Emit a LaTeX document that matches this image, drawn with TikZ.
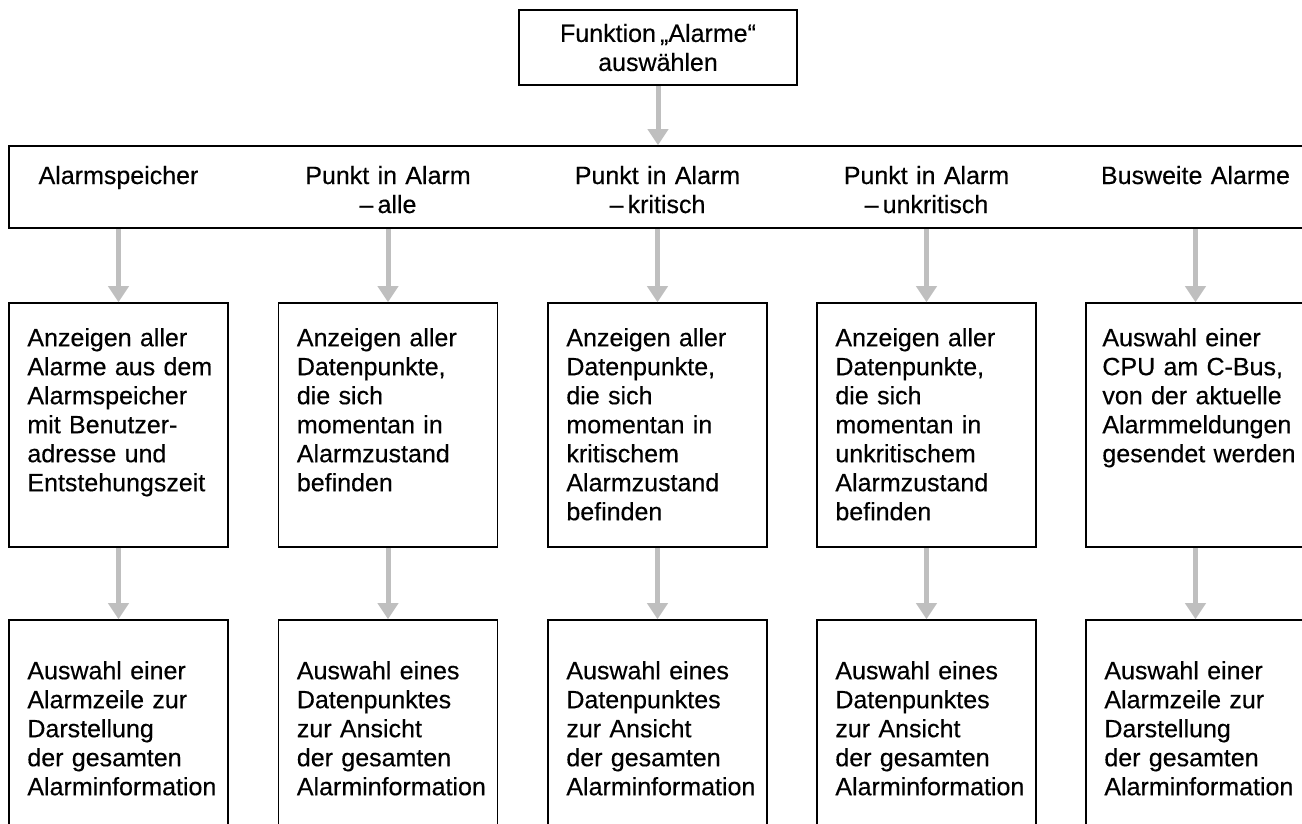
\documentclass[tikz,border=0pt]{standalone}
\usepackage{fontspec}
\setmainfont{Liberation Sans}[WordSpace=0.6, UprightFeatures={FakeBold=0.35}]
\usetikzlibrary{arrows.meta,calc}
\definecolor{arrowgray}{RGB}{191,191,191}
\tikzset{
  box/.style={draw=black, line width=1.6pt, inner sep=0pt, fill=white},
  colbox/.style={box, minimum width=219pt},
  txt/.style={inner sep=0pt, font=\fontsize{25}{29}\selectfont},
  lbl/.style={txt, align=left, text width=200pt, anchor=base west},
  barlbl/.style={txt, align=center, text width=219pt, anchor=base},
  arr/.style={draw=arrowgray, line width=5pt, -{Triangle[width=20pt,length=16pt]}}
}
\begin{document}
\begin{tikzpicture}[x=1pt,y=-1pt]
  \useasboundingbox (0,0) rectangle (1302,823);
  \clip (0,0) rectangle (1302,823);

  % start box and the wide menu bar
  \node[box, minimum width=278pt, minimum height=75pt, align=center, txt]
    (top) at (658,47.5) {Funktion „Alarme“\\auswählen};
  \node[box, minimum width=1320pt, minimum height=82pt] (bar) at (669,187) {};

  \node[barlbl] (l1) at (118.5,184) {Alarmspeicher};
  \node[barlbl] (l2) at (388,184) {Punkt in Alarm\\–\,alle};
  \node[barlbl] (l3) at (657.5,184) {Punkt in Alarm\\–\,kritisch};
  \node[barlbl] (l4) at (926.5,184) {Punkt in Alarm\\–\,unkritisch};
  \node[barlbl] (l5) at (1195.5,184) {Busweite Alarme};

  % middle and bottom rows of boxes
  \foreach \i/\x in {1/118.5,2/388,3/657.5,4/926.5,5/1195.5}{
    \node[colbox, minimum height=244pt] (m\i) at (\x,425) {};
    \node[colbox, minimum height=240pt] (b\i) at (\x,740) {};
  }

  \node[lbl] (m1t) at ($(m1.north west)+(19,44)$)
    {Anzeigen aller\\Alarme aus dem\\Alarmspeicher\\mit Benutzer-\\adresse und\\Entstehungszeit};
  \node[lbl] (m2t) at ($(m2.north west)+(19,44)$)
    {Anzeigen aller\\Datenpunkte,\\die sich\\momentan in\\Alarmzustand\\befinden};
  \node[lbl] (m3t) at ($(m3.north west)+(19,44)$)
    {Anzeigen aller\\Datenpunkte,\\die sich\\momentan in\\kritischem\\Alarmzustand\\befinden};
  \node[lbl] (m4t) at ($(m4.north west)+(19,44)$)
    {Anzeigen aller\\Datenpunkte,\\die sich\\momentan in\\unkritischem\\Alarmzustand\\befinden};
  \node[lbl] (m5t) at ($(m5.north west)+(17,44)$)
    {Auswahl einer\\CPU am C-Bus,\\von der aktuelle\\Alarmmeldungen\\gesendet werden};

  \node[lbl] (b1t) at ($(b1.north west)+(19,60)$)
    {Auswahl einer\\Alarmzeile zur\\Darstellung\\der gesamten\\Alarminformation};
  \node[lbl] (b2t) at ($(b2.north west)+(19,60)$)
    {Auswahl eines\\Datenpunktes\\zur Ansicht\\der gesamten\\Alarminformation};
  \node[lbl] (b3t) at ($(b3.north west)+(19,60)$)
    {Auswahl eines\\Datenpunktes\\zur Ansicht\\der gesamten\\Alarminformation};
  \node[lbl] (b4t) at ($(b4.north west)+(19,60)$)
    {Auswahl eines\\Datenpunktes\\zur Ansicht\\der gesamten\\Alarminformation};
  \node[lbl] (b5t) at ($(b5.north west)+(19,60)$)
    {Auswahl einer\\Alarmzeile zur\\Darstellung\\der gesamten\\Alarminformation};

  % connectors
  \draw[arr] (top.south) -- (top.south |- bar.north);
  \foreach \i in {1,...,5}{
    \draw[arr] (m\i.north |- bar.south) -- (m\i.north);
    \draw[arr] (m\i.south) -- (b\i.north);
  }
\end{tikzpicture}
\end{document}
